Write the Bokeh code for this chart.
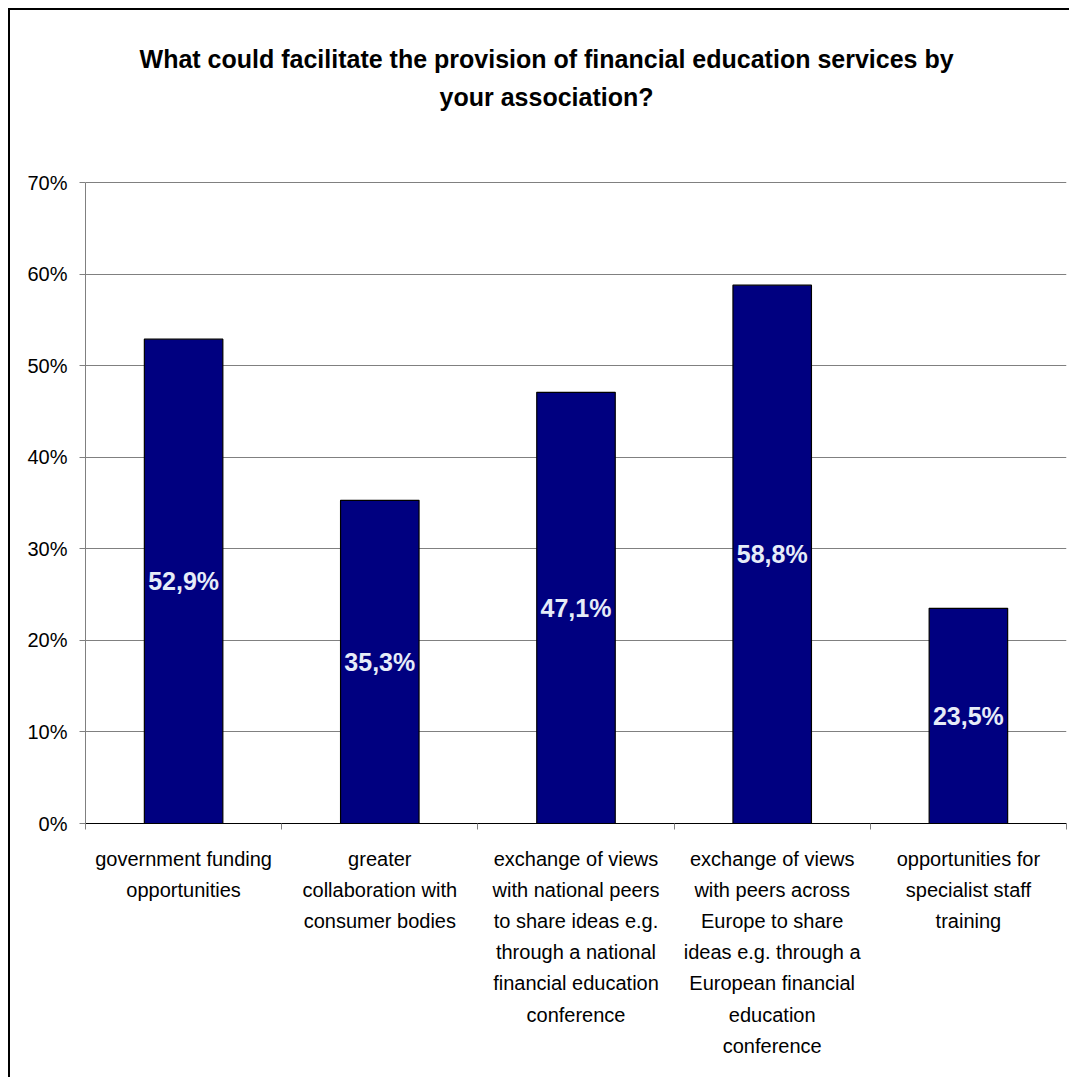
from bokeh.plotting import figure
from bokeh.models import ColumnDataSource, LabelSet, Label, FixedTicker, PrintfTickFormatter, Range1d
from bokeh.core.properties import value
from bokeh.embed import file_html
from bokeh.resources import INLINE

categories = [
    "government funding\nopportunities",
    "greater\ncollaboration with\nconsumer bodies",
    "exchange of views\nwith national peers\nto share ideas e.g.\nthrough a national\nfinancial education\nconference",
    "exchange of views\nwith peers across\nEurope to share\nideas e.g. through a\nEuropean financial\neducation\nconference",
    "opportunities for\nspecialist staff\ntraining",
]
values = [52.9, 35.3, 47.1, 58.8, 23.5]
y_ticks = [0, 10, 20, 30, 40, 50, 60, 70]
title_lines = ["What could facilitate the provision of financial education services by",
               "your association?"]

FONT = "Liberation Sans"

xs = [i + 0.5 for i in range(len(values))]
src = ColumnDataSource(dict(
    x=xs,
    top=values,
    mid=[v / 2 for v in values],
    lbl=[f"{v:.1f}%".replace(".", ",") for v in values],
))

# the frame reaches up to the top of the canvas so that the title lies inside it
p = figure(width=1061, height=1069, output_backend="svg", toolbar_location=None,
           x_range=Range1d(0, len(values)), y_range=Range1d(0, 88.8),
           min_border_left=75, min_border_right=5, min_border_top=0, min_border_bottom=256)
p.styles = {"margin-left": "8px", "margin-top": "8px",
            "border-left": "2px solid #000000", "border-top": "2px solid #000000"}
p.outline_line_color = None
p.background_fill_color = "white"
p.border_fill_color = "white"

# title (two centred lines)
for line, ty in zip(title_lines, [83.5, 79.4]):
    p.add_layout(Label(x=2.35, y=ty, text=line, text_align="center", text_baseline="middle",
                       text_font=FONT, text_font_size="25px", text_font_style="bold",
                       text_color="black"))

p.vbar(x="x", top="top", width=0.4, bottom=0, source=src,
       fill_color="#000080", line_color="black", line_width=1.2)

labels = LabelSet(x="x", y="mid", text="lbl", source=src, text_align="center",
                  text_baseline="middle", text_font=value(FONT), text_font_size=value("25px"),
                  text_font_style=value("bold"), text_color=value("#e6ecf8"))
p.add_layout(labels)

# y axis
p.yaxis.ticker = FixedTicker(ticks=y_ticks, minor_ticks=[])
p.yaxis.bounds = (0, 70)
p.yaxis.formatter = PrintfTickFormatter(format="%d%%")
p.yaxis.major_label_text_font = FONT
p.yaxis.major_label_text_font_size = "20px"
p.yaxis.major_label_text_color = "black"
p.yaxis.axis_line_color = "#808080"
p.yaxis.major_tick_line_color = "#808080"
p.yaxis.major_tick_out = 6
p.yaxis.major_tick_in = 0
p.yaxis.major_label_standoff = 12

# x axis
p.xaxis.ticker = FixedTicker(ticks=xs, minor_ticks=list(range(len(values) + 1)))
p.xaxis.major_label_overrides = {x: c for x, c in zip(xs, categories)}
p.xaxis.major_label_text_font = FONT
p.xaxis.major_label_text_font_size = "20px"
p.xaxis.major_label_text_color = "black"
p.xaxis.major_label_text_line_height = 1.42
p.xaxis.major_tick_out = 0
p.xaxis.major_tick_in = 0
p.xaxis.minor_tick_out = 6
p.xaxis.minor_tick_in = 0
p.xaxis.minor_tick_line_color = "#808080"
p.xaxis.axis_line_color = "black"
p.xaxis.major_label_standoff = 18

p.xgrid.visible = False
p.ygrid.ticker = FixedTicker(ticks=y_ticks)
p.ygrid.grid_line_color = "#808080"
p.ygrid.grid_line_width = 1

open("out.html", "w").write(file_html(p, INLINE))
